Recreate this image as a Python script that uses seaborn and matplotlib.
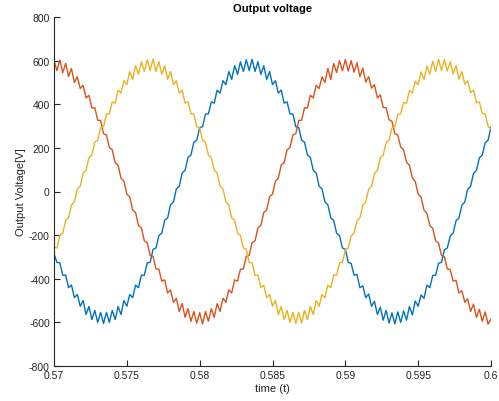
import numpy as np
import pandas as pd
import matplotlib
matplotlib.use("Agg")
import matplotlib.pyplot as plt
import seaborn as sns
from matplotlib.ticker import FuncFormatter

# time grid: 0.57 .. 0.60 s, 151 samples
t = np.linspace(0.57, 0.60, 151)

phase_a = [-285, -325, -327, -384, -383, -441, -429, -487, -472, -526,
           -500, -564, -527, -587, -545, -600, -554, -605, -554, -600,
           -545, -587, -527, -564, -500, -526, -472, -487, -429, -441,
           -383, -384, -327, -325, -265, -259, -202, -191, -132, -121,
           -61, -48, 12, 24, 85, 97, 156, 167, 226, 235,
           293, 297, 355, 356, 411, 405, 465, 451, 508, 490,
           550, 514, 577, 537, 595, 550, 604, 555, 606, 550,
           595, 537, 577, 514, 550, 490, 508, 451, 465, 405,
           411, 356, 355, 297, 293, 235, 226, 167, 156, 97,
           85, 24, 12, -48, -61, -121, -132, -191, -202, -259,
           -265, -325, -330, -384, -380, -441, -432, -487, -470, -526,
           -503, -564, -530, -590, -545, -603, -556, -607, -552, -600,
           -547, -590, -527, -566, -502, -526, -474, -490, -429, -441,
           -385, -384, -329, -325, -267, -259, -204, -191, -134, -121,
           -63, -48, 10, 24, 83, 97, 154, 167, 224, 235, 296]

phase_b = [600, 554, 603, 545, 587, 527, 564, 500, 526, 472,
           487, 429, 441, 383, 384, 327, 325, 265, 259, 202,
           191, 132, 121, 61, 48, -12, -24, -85, -97, -156,
           -167, -226, -235, -293, -297, -355, -356, -411, -405, -465,
           -451, -508, -490, -550, -514, -577, -537, -595, -550, -604,
           -555, -607, -550, -595, -537, -577, -514, -550, -490, -508,
           -451, -465, -405, -411, -356, -355, -297, -293, -235, -226,
           -167, -156, -97, -85, -24, -12, 48, 61, 121, 132,
           191, 202, 259, 265, 325, 327, 384, 383, 441, 429,
           487, 472, 526, 500, 564, 514, 587, 545, 600, 554,
           605, 552, 600, 547, 590, 527, 566, 502, 526, 474,
           490, 429, 443, 385, 384, 329, 322, 265, 259, 204,
           191, 134, 121, 63, 46, -12, -26, -85, -100, -156,
           -169, -226, -237, -293, -299, -355, -358, -411, -407, -465,
           -455, -508, -492, -550, -516, -577, -540, -595, -552, -608, -585]

phase_c = [-255, -259, -202, -191, -132, -121, -61, -48, 12, 24,
           85, 97, 156, 167, 226, 235, 293, 297, 355, 356,
           411, 405, 465, 451, 508, 490, 550, 514, 577, 537,
           595, 550, 604, 555, 607, 550, 595, 537, 577, 514,
           550, 490, 508, 451, 465, 405, 411, 356, 355, 297,
           293, 235, 226, 167, 156, 97, 85, 24, 12, -48,
           -61, -121, -132, -191, -202, -259, -265, -325, -327, -384,
           -383, -441, -429, -487, -472, -526, -500, -564, -527, -587,
           -545, -600, -554, -605, -554, -603, -545, -587, -527, -564,
           -500, -526, -472, -487, -429, -441, -383, -384, -327, -325,
           -267, -259, -204, -191, -134, -121, -63, -48, 10, 24,
           83, 97, 154, 167, 224, 235, 291, 297, 353, 356,
           409, 405, 463, 451, 506, 490, 548, 514, 575, 537,
           597, 550, 606, 555, 604, 552, 595, 539, 577, 516,
           550, 492, 508, 453, 465, 407, 411, 358, 355, 299, 285]

series_names = ["Va", "Vb", "Vc"]
colors = ["#0072BD", "#D95319", "#EDB120"]

df = pd.concat([
    pd.DataFrame({"t": t, "v": vals, "phase": name})
    for name, vals in zip(series_names, [phase_a, phase_b, phase_c])
], ignore_index=True)

sns.set_theme(style="ticks")
plt.rcParams["font.family"] = ["Liberation Sans", "DejaVu Sans"]

fig = plt.figure(figsize=(4.99, 4.02), dpi=100)
ax = fig.add_axes([54 / 499, 1 - 367 / 402, 437 / 499, 349 / 402])

sns.lineplot(data=df, x="t", y="v", hue="phase", palette=colors,
             estimator=None, sort=False, linewidth=1.0, legend=False, ax=ax)

ax.set_xlim(0.57, 0.60)
ax.set_ylim(-800, 800)
ax.set_xticks([0.57, 0.575, 0.58, 0.585, 0.59, 0.595, 0.60])
ax.set_yticks(list(range(-800, 801, 200)))
ax.xaxis.set_major_formatter(FuncFormatter(lambda v, p: f"{v:g}"))
ax.yaxis.set_major_formatter(FuncFormatter(lambda v, p: f"{int(v)}"))

ax.tick_params(direction="in", length=4, width=0.8, labelsize=7.5,
               colors="#262626", pad=3)
for s in ["top", "right"]:
    ax.spines[s].set_visible(False)
for s in ["left", "bottom"]:
    ax.spines[s].set_color("#262626")
    ax.spines[s].set_linewidth(0.8)

ax.set_xlabel("time (t)", fontsize=8, color="#262626", labelpad=2)
ax.set_ylabel("Output Voltage[V]", fontsize=8, color="#262626", labelpad=2)
ax.set_title("Output voltage", fontsize=8, fontweight="bold", color="#000000", pad=4)

fig.savefig("out.png", dpi=100, facecolor="white")
